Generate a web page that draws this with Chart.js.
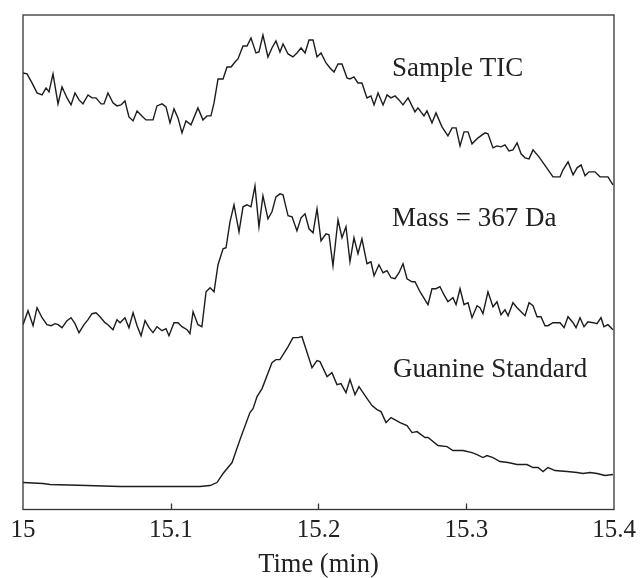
<!DOCTYPE html>
<html>
<head>
<meta charset="utf-8">
<script src="https://cdn.jsdelivr.net/npm/chart.js@4.4.1/dist/chart.umd.min.js"></script>
<style>
  html, body { margin: 0; padding: 0; background: #fff; }
  #wrap { width: 641px; height: 578px; position: relative; }
</style>
</head>
<body>
<div id="wrap"><canvas id="chart"></canvas></div>
<script>
// Sample TIC (time in min, arbitrary intensity)
const ticTime = [15.0000,15.0027,15.0061,15.0095,15.0129,15.0156,15.0176,15.0203,15.0237,15.0264,
  15.0298,15.0325,15.0352,15.0379,15.0406,15.0440,15.0467,15.0494,15.0528,15.0548,
  15.0575,15.0609,15.0636,15.0663,15.0690,15.0717,15.0745,15.0772,15.0805,15.0832,
  15.0880,15.0907,15.0941,15.0968,15.0995,15.1022,15.1049,15.1076,15.1103,15.1137,
  15.1184,15.1218,15.1245,15.1272,15.1293,15.1320,15.1354,15.1381,15.1408,15.1435,
  15.1455,15.1489,15.1516,15.1543,15.1577,15.1597,15.1624,15.1658,15.1685,15.1712,
  15.1739,15.1760,15.1794,15.1827,15.1854,15.1882,15.1909,15.1936,15.1963,15.1990,
  15.2017,15.2051,15.2078,15.2105,15.2132,15.2159,15.2193,15.2213,15.2240,15.2267,
  15.2294,15.2328,15.2355,15.2376,15.2403,15.2437,15.2464,15.2491,15.2518,15.2545,
  15.2572,15.2606,15.2653,15.2673,15.2714,15.2734,15.2768,15.2795,15.2836,15.2876,
  15.2904,15.2931,15.2958,15.2985,15.3012,15.3039,15.3080,15.3127,15.3147,15.3181,
  15.3208,15.3235,15.3262,15.3289,15.3316,15.3344,15.3371,15.3398,15.3425,15.3452,
  15.3492,15.3540,15.3587,15.3635,15.3655,15.3689,15.3723,15.3750,15.3777,15.3804,
  15.3831,15.3871,15.3905,15.3939,15.3959,15.3993];
const ticValues = [87.4,87.2,85.4,83.4,83.0,84.4,83.6,87.2,81.2,84.6,
  82.4,81.0,83.4,82.0,81.2,83.0,82.4,82.4,81.2,81.2,
  83.4,81.4,80.8,81.0,81.8,78.6,77.8,79.8,78.8,78.0,
  78.0,80.8,81.2,80.6,77.4,80.2,78.4,75.4,77.8,77.0,
  80.4,78.0,78.8,78.8,81.4,86.2,86.2,88.6,88.6,89.6,
  90.2,92.8,92.8,94.4,91.4,91.6,95.0,90.6,92.4,93.8,
  91.6,93.2,91.2,90.6,91.4,92.4,91.4,94.0,94.0,90.6,
  91.4,89.4,88.4,87.6,89.2,89.2,86.4,86.2,86.6,85.4,
  85.4,82.4,82.8,81.0,83.4,81.0,83.0,82.4,82.8,82.0,
  81.0,82.4,79.6,80.4,78.8,79.8,77.4,79.4,76.6,74.8,
  76.4,76.4,72.8,75.6,75.6,73.2,74.4,75.4,75.2,72.4,
  72.8,72.6,73.0,71.8,72.0,73.4,71.2,70.4,70.2,72.0,
  70.6,68.6,66.6,66.6,68.0,69.6,67.0,68.4,69.0,66.8,
  67.6,67.6,66.6,66.6,66.6,65.0];

// Mass = 367 Da
const massTime = [15.0000,15.0034,15.0068,15.0095,15.0129,15.0162,15.0190,15.0217,15.0237,15.0264,
  15.0298,15.0325,15.0352,15.0379,15.0413,15.0440,15.0467,15.0494,15.0521,15.0555,
  15.0575,15.0609,15.0636,15.0657,15.0690,15.0717,15.0745,15.0772,15.0799,15.0826,
  15.0853,15.0880,15.0907,15.0941,15.0968,15.0988,15.1022,15.1049,15.1076,15.1110,
  15.1130,15.1151,15.1184,15.1211,15.1239,15.1266,15.1293,15.1320,15.1354,15.1374,
  15.1401,15.1428,15.1462,15.1489,15.1516,15.1543,15.1570,15.1597,15.1624,15.1658,
  15.1685,15.1712,15.1739,15.1760,15.1794,15.1821,15.1854,15.1882,15.1909,15.1936,
  15.1963,15.1990,15.2017,15.2051,15.2071,15.2098,15.2132,15.2159,15.2186,15.2213,
  15.2240,15.2267,15.2294,15.2328,15.2355,15.2376,15.2409,15.2437,15.2464,15.2491,
  15.2518,15.2545,15.2572,15.2599,15.2633,15.2653,15.2687,15.2741,15.2768,15.2795,
  15.2822,15.2849,15.2876,15.2910,15.2931,15.2958,15.2985,15.3012,15.3039,15.3073,
  15.3093,15.3113,15.3147,15.3181,15.3208,15.3235,15.3262,15.3283,15.3316,15.3344,
  15.3398,15.3425,15.3452,15.3479,15.3506,15.3533,15.3553,15.3587,15.3614,15.3635,
  15.3662,15.3689,15.3723,15.3743,15.3770,15.3797,15.3824,15.3858,15.3885,15.3912,
  15.3932,15.3959,15.3993];
const massValues = [37.0,39.8,36.8,40.4,38.4,37.0,36.8,37.2,37.0,36.4,
  37.8,38.4,37.2,35.4,37.0,38.0,39.2,39.4,38.6,37.4,
  37.0,36.0,38.0,37.4,38.4,36.4,39.4,36.8,34.8,37.8,
  36.4,35.4,36.6,35.8,36.2,34.8,37.4,37.4,36.6,36.0,
  35.2,39.6,37.0,36.6,43.6,44.4,43.6,49.0,52.2,52.4,
  57.6,61.0,55.6,60.6,61.0,60.6,64.8,56.6,62.8,58.2,
  59.6,62.6,63.2,63.0,58.8,58.6,55.8,58.4,59.2,56.2,
  55.4,60.2,53.8,55.2,55.0,48.8,58.0,54.4,56.6,49.6,
  54.4,51.2,54.2,49.2,49.6,46.8,49.0,47.4,47.8,46.4,
  46.2,47.4,49.2,46.2,45.6,45.6,43.6,41.0,44.2,44.2,
  44.6,43.0,41.6,42.4,41.0,44.2,41.0,41.4,38.4,40.8,
  40.4,39.2,43.6,40.6,41.6,39.0,40.0,38.8,41.4,40.4,
  38.8,41.4,40.8,38.6,38.6,36.8,36.8,37.4,37.4,37.4,
  36.4,38.6,37.4,36.4,38.4,36.6,37.6,37.4,37.2,38.4,
  36.6,37.0,36.0];

// Guanine Standard
const guaTime = [15.0000,15.0135,15.0183,15.0433,15.0657,15.0880,15.1042,15.1198,15.1266,15.1313,
  15.1354,15.1415,15.1469,15.1536,15.1557,15.1584,15.1618,15.1685,15.1712,15.1739,
  15.1773,15.1794,15.1827,15.1861,15.1888,15.1956,15.1990,15.2010,15.2058,15.2091,
  15.2125,15.2152,15.2186,15.2213,15.2247,15.2274,15.2315,15.2362,15.2396,15.2423,
  15.2457,15.2491,15.2552,15.2599,15.2633,15.2667,15.2721,15.2741,15.2809,15.2870,
  15.2910,15.2978,15.3039,15.3073,15.3113,15.3140,15.3181,15.3228,15.3283,15.3344,
  15.3411,15.3452,15.3486,15.3520,15.3553,15.3601,15.3682,15.3750,15.3790,15.3838,
  15.3885,15.3939,15.3993];
const guaValues = [5.4,5.2,5.0,4.8,4.6,4.6,4.6,4.6,4.8,5.4,
  7.2,9.4,14.0,19.4,20.2,22.6,24.2,29.4,30.0,30.0,
  31.6,32.6,34.4,34.4,34.6,28.4,29.8,29.6,26.6,27.4,
  25.0,25.2,23.4,26.0,23.0,24.6,22.8,20.8,20.0,19.6,
  17.4,18.4,17.4,16.8,15.4,15.6,14.4,14.4,12.8,12.6,
  11.8,11.8,11.4,11.0,10.4,10.8,10.4,9.6,9.4,9.0,
  9.0,8.4,8.4,7.6,8.4,7.8,7.6,7.4,7.2,7.4,
  7.2,6.8,7.0];

// trace labels, placed in data units
const labelText = ['Sample TIC', 'Mass = 367 Da', 'Guanine Standard'];
const labelTime = [15.2497, 15.2497, 15.2504];
const labelValue = [86.8, 56.8, 26.6];

const xTicks = [15, 15.1, 15.2, 15.3, 15.4];

const serif = '"Liberation Serif", "Times New Roman", serif';
const ink = '#1c1c1c';

const toPoints = (t, v) => t.map((x, i) => ({ x: x, y: v[i] }));

const traceStyle = {
    borderColor: ink,
    borderWidth: 1.4,
    pointRadius: 0,
    fill: false,
    tension: 0
};

// box around the plot, inner tick marks, trace labels
const framePlugin = {
    id: 'frame',
    afterDraw(chart) {
        const { ctx, chartArea: a, scales } = chart;
        ctx.save();
        ctx.strokeStyle = '#333';
        ctx.lineWidth = 1.3;
        ctx.strokeRect(a.left, a.top, a.right - a.left, a.bottom - a.top);

        xTicks.slice(1, -1).forEach(t => {
            const px = Math.round(scales.x.getPixelForValue(t)) + 0.5;
            ctx.beginPath();
            ctx.moveTo(px, a.bottom);
            ctx.lineTo(px, a.bottom - 6);
            ctx.stroke();
        });

        ctx.fillStyle = '#222';
        ctx.font = '27px ' + serif;
        ctx.textAlign = 'left';
        ctx.textBaseline = 'alphabetic';
        labelText.forEach((txt, i) => {
            ctx.fillText(txt,
                scales.x.getPixelForValue(labelTime[i]),
                scales.y.getPixelForValue(labelValue[i]));
        });
        ctx.restore();
    }
};

new Chart(document.getElementById('chart'), {
    type: 'line',
    data: {
        datasets: [
            { label: 'Sample TIC', data: toPoints(ticTime, ticValues), ...traceStyle },
            { label: 'Mass = 367 Da', data: toPoints(massTime, massValues), ...traceStyle },
            { label: 'Guanine Standard', data: toPoints(guaTime, guaValues), ...traceStyle }
        ]
    },
    options: {
        responsive: true,
        maintainAspectRatio: false,
        animation: false,
        layout: { padding: { left: 23, right: 27, top: 15, bottom: 0 } },
        plugins: {
            legend: { display: false },
            tooltip: { enabled: false }
        },
        scales: {
            x: {
                type: 'linear',
                min: 15,
                max: 15.4,
                afterBuildTicks: (scale) => { scale.ticks = xTicks.map(v => ({ value: v })); },
                // let the layout padding alone decide the plot edges
                afterFit: (scale) => { scale.paddingLeft = 0; scale.paddingRight = 0; },
                grid: { display: false, drawTicks: false },
                border: { display: false },
                ticks: {
                    color: '#222',
                    padding: 8.5,
                    maxRotation: 0,
                    autoSkip: false,
                    font: { family: serif, size: 25, lineHeight: 1 },
                    callback: (v) => String(Math.round(v * 10) / 10)
                },
                title: {
                    display: true,
                    text: 'Time (min)',
                    color: '#222',
                    padding: { top: 0, bottom: 0 },
                    font: { family: serif, size: 26.5, lineHeight: 1 }
                }
            },
            y: {
                display: false,
                min: 0,
                max: 99
            }
        }
    },
    plugins: [framePlugin]
});
</script>
</body>
</html>
